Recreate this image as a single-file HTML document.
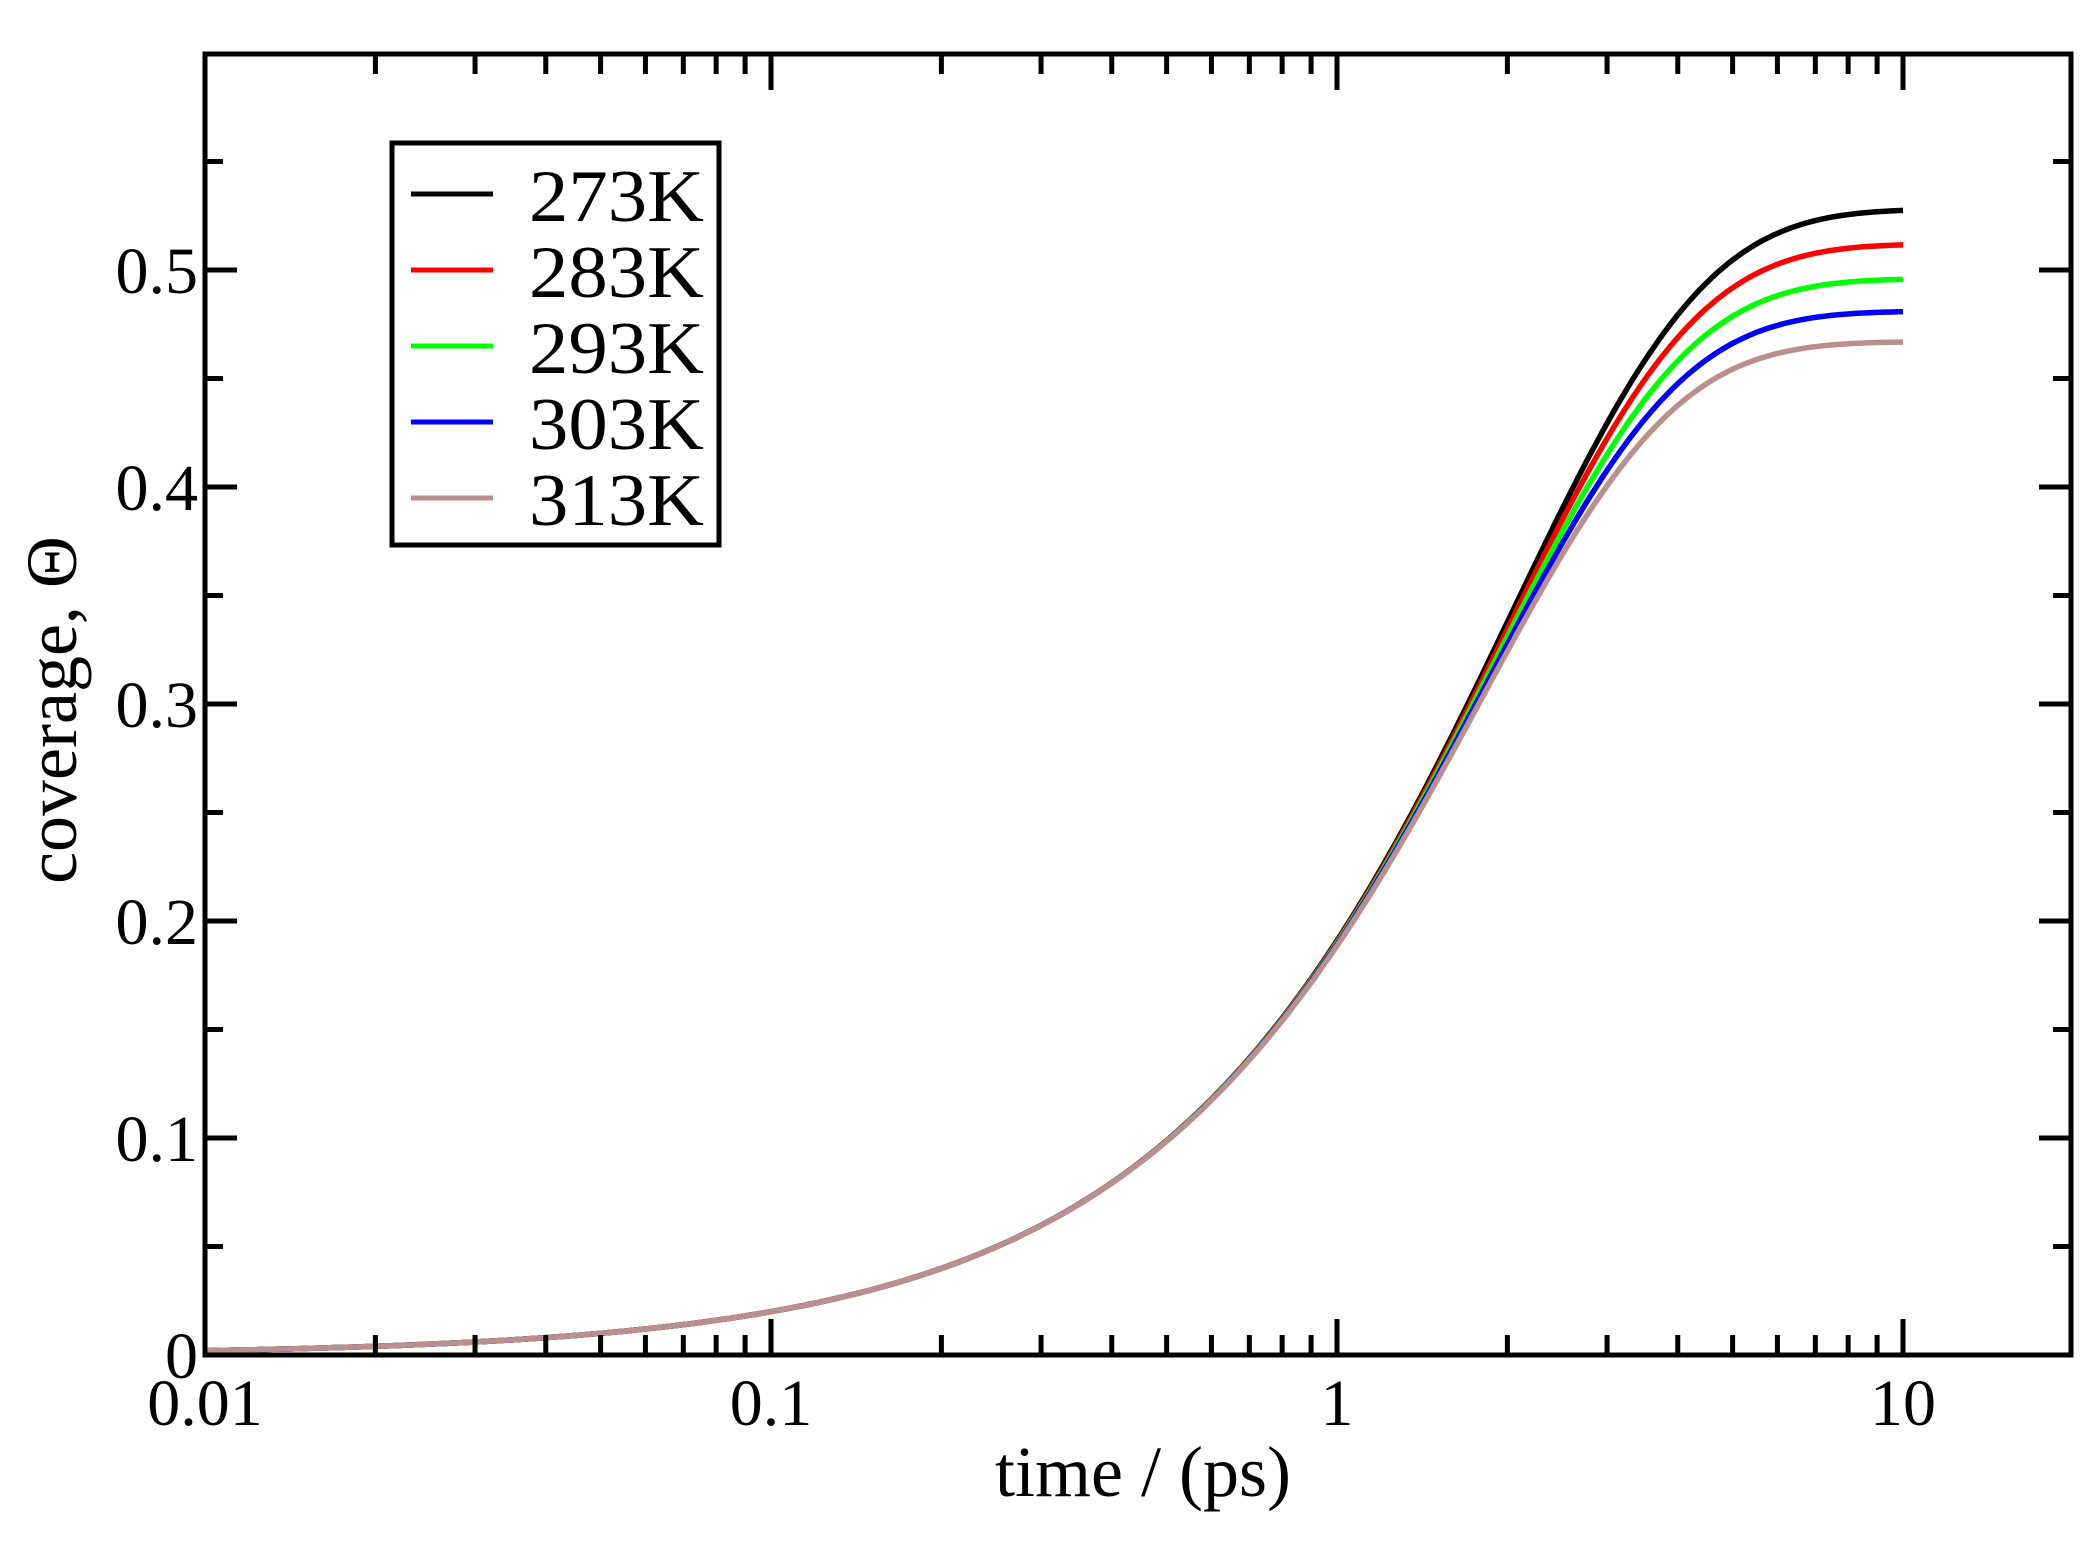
<!DOCTYPE html>
<html><head><meta charset="utf-8"><style>
html,body{margin:0;padding:0;background:#fff;}
svg{display:block;}
text{font-family:"Liberation Serif",serif;fill:#000;}
</style></head><body>
<svg id="s" width="2099" height="1541" viewBox="0 0 2099 1541" xmlns="http://www.w3.org/2000/svg">
<rect width="2099" height="1541" fill="#fff"/>
<g id="curves" fill="none" stroke-width="5.5"></g>
<g id="ticks" stroke="#000" stroke-width="5"></g>
<rect x="205" y="54" width="1866" height="1301" fill="none" stroke="#000" stroke-width="5"/>
<g font-size="66" text-anchor="end">
<text x="198" y="1378">0</text>
<text x="198" y="1161">0.1</text>
<text x="198" y="944">0.2</text>
<text x="198" y="727">0.3</text>
<text x="198" y="510">0.4</text>
<text x="198" y="293">0.5</text>
</g>
<g font-size="66" text-anchor="middle">
<text x="205" y="1425">0.01</text>
<text x="771" y="1425">0.1</text>
<text x="1337" y="1425">1</text>
<text x="1903" y="1425">10</text>
</g>
<text x="1143" y="1496" font-size="72" text-anchor="middle">time / (ps)</text>
<text transform="translate(76,710) rotate(-90)" font-size="72" text-anchor="middle">coverage, Θ</text>
<rect x="392" y="143" width="327" height="402" fill="#fff" stroke="#000" stroke-width="5"/>
<g stroke-width="5">
<line x1="411" y1="194" x2="493" y2="194" stroke="#000"/>
<line x1="411" y1="270" x2="493" y2="270" stroke="#ff0000"/>
<line x1="411" y1="346" x2="493" y2="346" stroke="#00ff00"/>
<line x1="411" y1="422" x2="493" y2="422" stroke="#0000ff"/>
<line x1="411" y1="498" x2="493" y2="498" stroke="#bc8f8f"/>
</g>
<g font-size="74">
<text x="529" y="221" textLength="175" lengthAdjust="spacingAndGlyphs">273K</text>
<text x="529" y="297" textLength="175" lengthAdjust="spacingAndGlyphs">283K</text>
<text x="529" y="373" textLength="175" lengthAdjust="spacingAndGlyphs">293K</text>
<text x="529" y="449" textLength="175" lengthAdjust="spacingAndGlyphs">303K</text>
<text x="529" y="525" textLength="175" lengthAdjust="spacingAndGlyphs">313K</text>
</g>
</svg>
<script>
var X0=205,DEC=566,Y0=1355,YS=2170;
function px(t){return X0+(Math.log10(t)+2)*DEC;}
function py(v){return Y0-v*YS;}
var tk=document.getElementById('ticks'),h='';
for(var d=-2;d<=1;d++){for(var m=1;m<=9;m++){var t=m*Math.pow(10,d);if(t>20)break;var x=px(t);if(x>2070)continue;var L=(m==1)?36:20;
h+='<line x1="'+x+'" y1="1355" x2="'+x+'" y2="'+(1355-L)+'"/>';
h+='<line x1="'+x+'" y1="54" x2="'+x+'" y2="'+(54+L)+'"/>';}}
for(var i=1;i<12;i++){var y=py(i*0.05);var L=(i%2==0)?32:18;
h+='<line x1="205" y1="'+y+'" x2="'+(205+L)+'" y2="'+y+'"/>';
h+='<line x1="2071" y1="'+y+'" x2="'+(2071-L)+'" y2="'+y+'"/>';}
tk.innerHTML=h;
var cs=[[0.528,'#000'],[0.512,'#ff0000'],[0.496,'#00ff00'],[0.481,'#0000ff'],[0.467,'#bc8f8f']];
var g=document.getElementById('curves'),s='';
cs.forEach(function(c){var m=c[0],k=0.2/m,p='';
for(var i=0;i<=300;i++){var lt=-2+3*i/300,t=Math.pow(10,lt);var v=m*Math.tanh(k*t);
p+=(i?'L':'M')+px(t).toFixed(1)+' '+py(v).toFixed(1);}
s+='<path d="'+p+'" stroke="'+c[1]+'"/>';});
g.innerHTML=s;
</script>
</body></html>
